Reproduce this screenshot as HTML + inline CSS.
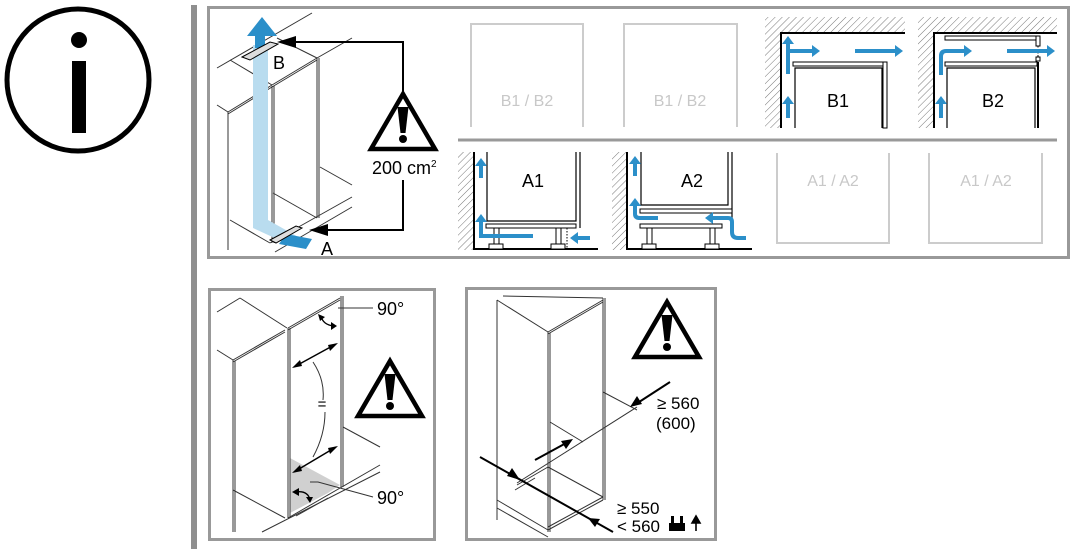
<!DOCTYPE html>
<html><head><meta charset="utf-8"><style>
html,body{margin:0;padding:0;background:#fff;}
svg{display:block;font-family:"Liberation Sans",sans-serif;}
</style></head><body>
<svg width="1078" height="549" viewBox="0 0 1078 549" xmlns="http://www.w3.org/2000/svg">
<defs>
<pattern id="h" width="5" height="5" patternUnits="userSpaceOnUse" patternTransform="rotate(45)">
<line x1="0" y1="0" x2="0" y2="5" stroke="#777" stroke-width="1"/>
</pattern>
<g id="warn">
<path d="M0,-28 L32,27 L-32,27 Z" fill="#fff" stroke="#000" stroke-width="4.5" stroke-linejoin="miter"/>
<path d="M-5.5,-15 L5.5,-15 L2.5,11 L-2.5,11 Z" fill="#000"/>
<circle cx="0" cy="17" r="4" fill="#000"/>
</g>
</defs>

<!-- info icon -->
<circle cx="78" cy="80" r="71" fill="none" stroke="#000" stroke-width="5"/>
<circle cx="79" cy="40" r="8" fill="#000"/>
<rect x="72" y="61" width="14" height="72" fill="#000"/>
<rect x="191" y="5" width="6" height="544" fill="#8f8f8f"/>

<!-- top panel -->
<rect x="208.5" y="7.5" width="860" height="250" fill="none" stroke="#999" stroke-width="3"/>
<line x1="458" y1="140" x2="1057" y2="140" stroke="#999" stroke-width="3"/>

<!-- left perspective figure -->
<g stroke="#333" stroke-width="1" fill="none">
<line x1="217" y1="68" x2="312" y2="13"/>
<line x1="230" y1="60" x2="272" y2="85"/>
<line x1="272" y1="85" x2="317" y2="58"/><line x1="272" y1="87" x2="317" y2="60"/>
<line x1="277" y1="38" x2="317" y2="58"/>
<line x1="317" y1="58" x2="352" y2="38"/>
<line x1="217" y1="105" x2="228" y2="112"/>
<line x1="228" y1="112" x2="272" y2="85"/><line x1="228" y1="114" x2="272" y2="87"/>
<line x1="228" y1="112" x2="228" y2="250"/>
<line x1="272" y1="86" x2="272" y2="243"/><line x1="274" y1="86" x2="274" y2="243"/>
<line x1="317" y1="58" x2="317" y2="218"/><line x1="319" y1="58" x2="319" y2="218"/>
<line x1="320" y1="167" x2="352" y2="185"/>
<line x1="273" y1="193" x2="317" y2="218"/>
<line x1="230" y1="220" x2="270" y2="243"/>
<line x1="270" y1="243" x2="352" y2="197"/>
<line x1="275" y1="252" x2="352" y2="207"/>
</g>
<path d="M253,45 L268,45 L268,220 L300,238 L292,246 L253,228 Z" fill="#b9dcef"/>
<path d="M255,48 L255,36 L247,36 L262,17 L277,36 L265,36 L265,48 Z" fill="#2b8fc9"/>
<path d="M286,234 L312,239 L306,249 L279,244 Z" fill="#2b8fc9"/>
<path d="M242,57 L270,42 L278,44 L250,60 Z" fill="#ddd" stroke="#000" stroke-width="1"/>
<path d="M270,240 L296,226 L302,228 L276,243 Z" fill="#ddd" stroke="#000" stroke-width="1"/>
<polyline points="290,42 403,42 403,94" fill="none" stroke="#000" stroke-width="2"/>
<path d="M277,42 L296,36 L296,48 Z" fill="#000"/>
<polyline points="322,230 403,230 403,180" fill="none" stroke="#000" stroke-width="2"/>
<path d="M309,230 L328,224 L328,236 Z" fill="#000"/>
<text x="279" y="69" font-size="18" text-anchor="middle">B</text>
<text x="327" y="255" font-size="18" text-anchor="middle">A</text>
<use href="#warn" transform="translate(403,122)"/>
<text x="372" y="174" font-size="18">200 cm<tspan font-size="10" dy="-7">2</tspan></text>

<!-- faint boxes -->
<g stroke="#ccc" stroke-width="2" fill="none">
<polyline points="471,127 471,24 583,24 583,127"/>
<polyline points="624,127 624,24 737,24 737,127"/>
<polyline points="777,153 777,243 889,243 889,153"/>
<polyline points="929,153 929,243 1042,243 1042,153"/>
</g>
<g fill="#c8c8c8" font-size="16" text-anchor="middle">
<text x="527" y="106">B1 / B2</text>
<text x="680" y="106">B1 / B2</text>
<text x="833" y="186">A1 / A2</text>
<text x="986" y="186">A1 / A2</text>
</g>

<!-- B1 -->
<path d="M765,17 H905 V33 H781 V128 H765 Z" fill="url(#h)"/>
<polyline points="781,128 781,33 905,33" fill="none" stroke="#000" stroke-width="2"/>
<rect x="793" y="62" width="92" height="4" fill="#fff" stroke="#000" stroke-width="1"/>
<polyline points="795,128 795,68 882,68 882,128" fill="none" stroke="#000" stroke-width="1.2"/>
<rect x="883" y="62" width="4" height="66" fill="#fff" stroke="#000" stroke-width="1"/>
<g fill="#2b8fc9">
<path d="M786,74 V44 H782 L788,36 L794,44 H790 V49 H812 V45 L820,51 L812,57 V53 H790 V74 Z"/>
<path d="M855,49 H895 V45 L903,51 L895,57 V53 H855 Z"/>
<path d="M786,118 V104 H782 L788,96 L794,104 H790 V118 Z"/>
</g>
<text x="838" y="107" font-size="18" text-anchor="middle">B1</text>

<!-- B2 -->
<path d="M918,17 H1057 V33 H934 V128 H918 Z" fill="url(#h)"/>
<polyline points="934,128 934,33 1057,33" fill="none" stroke="#000" stroke-width="2"/>
<rect x="945" y="36" width="92" height="4" fill="#fff" stroke="#000" stroke-width="1"/>
<rect x="1036" y="36" width="4" height="10" fill="#fff" stroke="#000" stroke-width="1"/>
<line x1="1038" y1="46" x2="1038" y2="58" stroke="#000" stroke-width="1" stroke-dasharray="1.5,1.5"/>
<rect x="1036" y="57" width="4" height="4" fill="#fff" stroke="#000" stroke-width="1"/>
<rect x="945" y="62" width="92" height="4" fill="#fff" stroke="#000" stroke-width="1"/>
<polyline points="947,128 947,68 1035,68 1035,128" fill="none" stroke="#000" stroke-width="1.2"/>
<line x1="1038" y1="62" x2="1038" y2="128" stroke="#000" stroke-width="2"/>
<g fill="#2b8fc9">
<path d="M939,75 V56 Q939,49 946,49 H964 V45 L972,51 L964,57 V53 H946 Q943,53 943,57 V75 Z"/>
<path d="M1007,49 H1047 V45 L1055,51 L1047,57 V53 H1007 Z"/>
<path d="M939,118 V104 H935 L941,96 L947,104 H943 V118 Z"/>
</g>
<text x="993" y="107" font-size="18" text-anchor="middle">B2</text>

<!-- A1 -->
<rect x="458" y="152" width="16" height="98" fill="url(#h)"/>
<polyline points="474,152 474,249 598,249" fill="none" stroke="#000" stroke-width="2"/>
<polyline points="487,152 487,221 576,221 576,152" fill="none" stroke="#000" stroke-width="1.2"/>
<line x1="580" y1="152" x2="580" y2="228" stroke="#000" stroke-width="1.2"/>
<rect x="486" y="224" width="90" height="4" fill="#fff" stroke="#000" stroke-width="1"/>
<rect x="494" y="228" width="5" height="16" fill="#fff" stroke="#000" stroke-width="1"/>
<rect x="556" y="228" width="5" height="16" fill="#fff" stroke="#000" stroke-width="1"/>
<rect x="489" y="244" width="14" height="5" fill="#fff" stroke="#000" stroke-width="1"/>
<rect x="551" y="244" width="14" height="5" fill="#fff" stroke="#000" stroke-width="1"/>
<line x1="567" y1="228" x2="567" y2="249" stroke="#000" stroke-width="1" stroke-dasharray="1.5,1.5"/>
<g fill="#2b8fc9">
<path d="M479,178 V166 H475 L481,158 L487,166 H483 V178 Z"/>
<path d="M479,222 H475 L481,214 L487,222 H483 V234 H533 V238 H479 Z"/>
<path d="M590,236 H578 V232 L570,238 L578,244 V240 H590 Z"/>
</g>
<text x="533" y="187" font-size="18" text-anchor="middle">A1</text>

<!-- A2 -->
<rect x="612" y="152" width="14" height="98" fill="url(#h)"/>
<polyline points="627,152 627,249 752,249" fill="none" stroke="#000" stroke-width="2"/>
<polyline points="641,152 641,205 728,205 728,152" fill="none" stroke="#000" stroke-width="1.2"/>
<line x1="732" y1="152" x2="732" y2="228" stroke="#000" stroke-width="1.2"/>
<rect x="640" y="209" width="92" height="4" fill="#fff" stroke="#000" stroke-width="1"/>
<rect x="640" y="224" width="82" height="4" fill="#fff" stroke="#000" stroke-width="1"/>
<rect x="647" y="228" width="5" height="16" fill="#fff" stroke="#000" stroke-width="1"/>
<rect x="710" y="228" width="5" height="16" fill="#fff" stroke="#000" stroke-width="1"/>
<rect x="642" y="244" width="14" height="5" fill="#fff" stroke="#000" stroke-width="1"/>
<rect x="705" y="244" width="14" height="5" fill="#fff" stroke="#000" stroke-width="1"/>
<g fill="#2b8fc9">
<path d="M633,176 V164 H629 L635,156 L641,164 H637 V176 Z"/>
<path d="M633,206 H629 L635,198 L641,206 H637 V214 Q637,216 640,216 H658 V220 H640 Q633,220 633,214 Z"/>
<path d="M746,236 H738 Q734,236 734,232 V222 Q734,216 728,216 H713 V212 L705,218 L713,224 V220 H728 Q730,220 730,222 V232 Q730,240 738,240 H746 Z"/>
</g>
<text x="692" y="187" font-size="18" text-anchor="middle">A2</text>

<!-- bottom panel 1 -->
<rect x="209.5" y="289.5" width="225" height="250" fill="none" stroke="#999" stroke-width="3"/>
<path d="M290,458 L340,485 L328,493 L290,513 Z" fill="#d0d0d0"/>
<g stroke="#333" stroke-width="1" fill="none">
<line x1="217" y1="312" x2="240" y2="298"/>
<line x1="240" y1="298" x2="287" y2="328"/>
<line x1="217" y1="350" x2="233" y2="360"/>
<line x1="233" y1="360" x2="285" y2="330"/><line x1="233" y1="362" x2="285" y2="332"/>
<line x1="233" y1="360" x2="233" y2="532"/><line x1="235" y1="361" x2="235" y2="532"/>
<line x1="288" y1="328" x2="288" y2="518"/><line x1="290" y1="328" x2="290" y2="518"/>
<line x1="288" y1="328" x2="340" y2="298"/><line x1="288" y1="330" x2="340" y2="300"/>
<line x1="341" y1="296" x2="341" y2="487"/><line x1="343" y1="296" x2="343" y2="487"/>
<line x1="343" y1="427" x2="380" y2="447"/>
<line x1="288" y1="518" x2="380" y2="465"/>
<line x1="262" y1="532" x2="380" y2="472"/>
<line x1="233" y1="490" x2="285" y2="518"/>
<line x1="296" y1="516" x2="328" y2="498"/>
<path d="M313,362 Q325,380 323,400"/>
<path d="M325,412 Q325,435 313,457"/>
<polyline points="338,308 373,308"/>
<polyline points="310,482 318,482 373,497"/>
</g>
<g stroke="#000" stroke-width="1.5">
<line x1="294" y1="367" x2="336" y2="344"/>
<line x1="294" y1="472" x2="336" y2="447"/>
</g>
<g fill="#000">
<path d="M292,368 L300,360 L302,366 Z"/><path d="M338,343 L330,351 L328,345 Z"/>
<path d="M292,473 L300,465 L302,471 Z"/><path d="M338,446 L330,454 L328,448 Z"/>
</g>
<path d="M321,316 Q323,325 334,326" fill="none" stroke="#000" stroke-width="1.3"/>
<path d="M318,314 L325,317 L320,321 Z M337,326 L331,322 L331,330 Z" fill="#000"/>
<path d="M295,492 Q308,490 310,500" fill="none" stroke="#000" stroke-width="1.3"/>
<path d="M292,492 L299,488 L299,496 Z M310,503 L306,497 L313,497 Z" fill="#000"/>
<text x="322" y="409" font-size="15" text-anchor="middle">=</text>
<text x="377" y="315" font-size="18">90°</text>
<text x="377" y="504" font-size="18">90°</text>
<use href="#warn" transform="translate(390,389)"/>

<!-- bottom panel 2 -->
<rect x="466.5" y="288.5" width="249" height="251" fill="none" stroke="#999" stroke-width="3"/>
<g stroke="#333" stroke-width="1" fill="none">
<line x1="497" y1="300" x2="548" y2="332"/>
<line x1="548" y1="332" x2="603" y2="300"/><line x1="548" y1="334" x2="603" y2="302"/>
<line x1="503" y1="296" x2="603" y2="298"/>
<line x1="497" y1="300" x2="497" y2="520"/>
<line x1="548" y1="332" x2="548" y2="532"/><line x1="550" y1="333" x2="550" y2="532"/>
<line x1="603" y1="298" x2="603" y2="500"/><line x1="605" y1="298" x2="605" y2="500"/>
<line x1="497" y1="500" x2="548" y2="530"/>
<line x1="497" y1="508" x2="548" y2="537"/>
<line x1="548" y1="530" x2="603" y2="500"/><line x1="548" y1="527" x2="603" y2="497"/>
<line x1="548" y1="467" x2="603" y2="497"/>
<line x1="603" y1="392" x2="637" y2="410"/>
<line x1="550" y1="422" x2="583" y2="442"/>
<line x1="517" y1="483" x2="637" y2="407"/>
<line x1="517" y1="485" x2="548" y2="467"/>
<line x1="515" y1="490" x2="535" y2="478"/>
</g>
<g stroke="#000" stroke-width="2">
<line x1="670" y1="382" x2="636" y2="404"/>
<line x1="535" y1="460" x2="568" y2="442"/>
<line x1="480" y1="457" x2="613" y2="532"/>
</g>
<g fill="#000">
<path d="M630,407 L637,396 L642,404 Z"/>
<path d="M573,439 L561,441 L566,449 Z"/>
<path d="M520,480 L507,476 L512,468 Z"/>
<path d="M588,518 L600,519 L595,527 Z"/>
</g>
<use href="#warn" transform="translate(667,330)"/>
<text x="657" y="409" font-size="17">≥ 560</text>
<text x="656" y="429" font-size="17">(600)</text>
<text x="617" y="514" font-size="17">≥ 550</text>
<text x="617" y="532" font-size="17">&lt; 560</text>
<rect x="669" y="523" width="16" height="8" fill="#000"/>
<rect x="671" y="516" width="3" height="7" fill="#000"/>
<rect x="680" y="516" width="3" height="7" fill="#000"/>
<path d="M696,531 V520 M692,523 L696,516 L700,523 Z" stroke="#000" stroke-width="1.6" fill="#000"/>
</svg>
</body></html>
